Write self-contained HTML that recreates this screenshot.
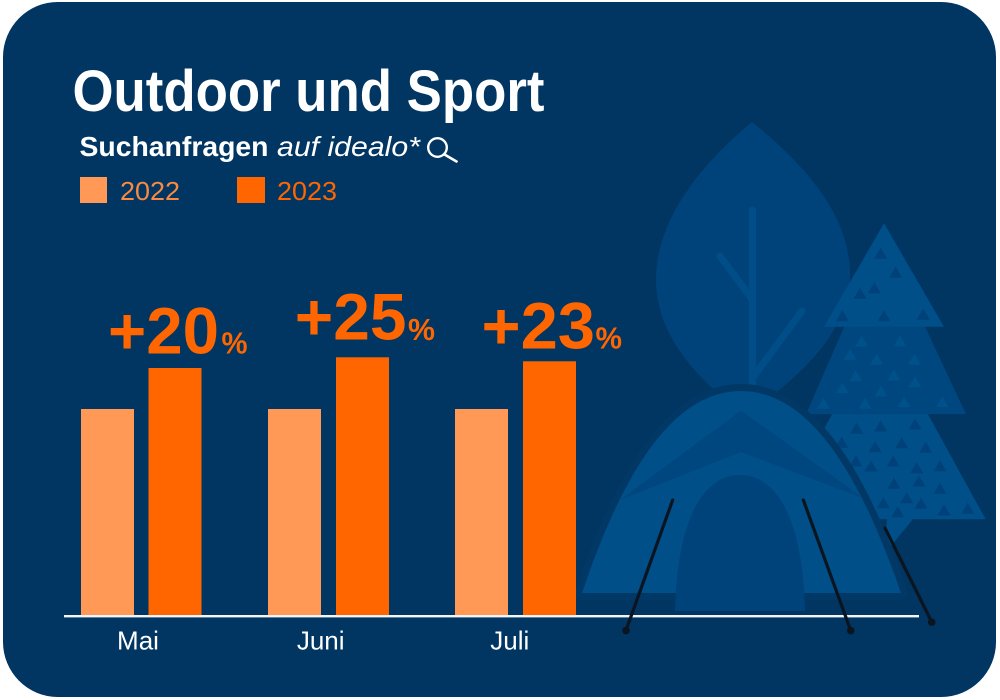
<!DOCTYPE html>
<html>
<head>
<meta charset="utf-8">
<style>
  html, body { margin:0; padding:0; background:#ffffff; }
  body { width:1000px; height:700px; overflow:hidden; }
  svg { display:block; }
  text { font-family: "Liberation Sans", Arial, sans-serif; }
</style>
</head>
<body>
<svg width="1000" height="700" viewBox="0 0 1000 700" xmlns="http://www.w3.org/2000/svg">
  <!-- card -->
  <rect x="3" y="2" width="993" height="695" rx="55" ry="55" fill="#013562"/>

  <!-- leaf -->
  <path d="M752,122 C 700,165 656,220 656,280 C 656,330 690,375 745,415 C 805,375 850,328 850,275 C 850,215 805,165 752,122 Z" fill="#00437B"/>
  <g stroke="#004D87" stroke-width="7" stroke-linecap="round" fill="none">
    <line x1="752.5" y1="210" x2="752.5" y2="385"/>
    <line x1="720" y1="256" x2="752" y2="299"/>
    <line x1="802" y1="311" x2="754" y2="376"/>
  </g>

  <!-- pine tree: bottom tier -->
  <polygon points="835.5,408 924.5,408 985.7,519.3 774,519.3" fill="#004F89"/>
  <g fill="#00417A">
    <polygon points="856.7,422.8 850.2,433.8 863.2,433.8"/>
    <polygon points="880.7,420.5 874.2,431.5 887.2,431.5"/>
    <polygon points="915,418.5 908.5,429.5 921.5,429.5"/>
    <polygon points="841.7,436.8 835.2,447.8 848.2,447.8"/>
    <polygon points="875,441.2 868.5,452.2 881.5,452.2"/>
    <polygon points="901.7,437.2 895.2,448.2 908.2,448.2"/>
    <polygon points="925.7,441.8 919.2,452.8 932.2,452.8"/>
    <polygon points="856,455.5 849.5,466.5 862.5,466.5"/>
    <polygon points="871,460.5 864.5,471.5 877.5,471.5"/>
    <polygon points="893.3,455.5 886.8,466.5 899.8,466.5"/>
    <polygon points="916.7,462.2 910.2,473.2 923.2,473.2"/>
    <polygon points="940,460.2 933.5,471.2 946.5,471.2"/>
    <polygon points="894,477.8 887.5,488.8 900.5,488.8"/>
    <polygon points="919,475.5 912.5,486.5 925.5,486.5"/>
    <polygon points="940,482.8 933.5,493.8 946.5,493.8"/>
    <polygon points="883.3,497.2 876.8,508.2 889.8,508.2"/>
    <polygon points="906.7,492.2 900.2,503.2 913.2,503.2"/>
    <polygon points="921,497.8 914.5,508.8 927.5,508.8"/>
    <polygon points="897.7,506.2 891.2,517.2 904.2,517.2"/>
    <polygon points="944,504.5 937.5,515.5 950.5,515.5"/>
    <polygon points="967.7,502.8 961.2,513.8 974.2,513.8"/>
  </g>
  <!-- trunk -->
  <polygon points="887,519 913,519 891,546 885,541" fill="#004F89"/>

  <!-- middle tier -->
  <polygon points="848,318 921,318 966,414.3 806,414.3" fill="#00467F"/>
  <g fill="#00508A">
    <polygon points="861.7,335.5 855.2,346.5 868.2,346.5"/>
    <polygon points="900,335.5 893.5,346.5 906.5,346.5"/>
    <polygon points="850,348.8 843.5,359.8 856.5,359.8"/>
    <polygon points="876.7,353.8 870.2,364.8 883.2,364.8"/>
    <polygon points="914.3,353.8 907.8,364.8 920.8,364.8"/>
    <polygon points="855.7,370.2 849.2,381.2 862.2,381.2"/>
    <polygon points="894,369.5 887.5,380.5 900.5,380.5"/>
    <polygon points="915,376.2 908.5,387.2 921.5,387.2"/>
    <polygon points="842.3,382.2 835.8,393.2 848.8,393.2"/>
    <polygon points="881,385.5 874.5,396.5 887.5,396.5"/>
    <polygon points="823.3,397.8 816.8,408.8 829.8,408.8"/>
    <polygon points="865,397.8 858.5,408.8 871.5,408.8"/>
    <polygon points="904,396.2 897.5,407.2 910.5,407.2"/>
    <polygon points="942.3,396.2 935.8,407.2 948.8,407.2"/>
  </g>

  <!-- top tier -->
  <polygon points="884,223.3 944,326.7 824,326.7" fill="#004F89"/>
  <g fill="#00417A">
    <polygon points="880.7,247.8 874.2,258.8 887.2,258.8"/>
    <polygon points="895.7,266.8 889.2,277.8 902.2,277.8"/>
    <polygon points="874.3,282.2 867.8,293.2 880.8,293.2"/>
    <polygon points="860,287.8 853.5,298.8 866.5,298.8"/>
    <polygon points="842.3,310.2 835.8,321.2 848.8,321.2"/>
    <polygon points="884,310.2 877.5,321.2 890.5,321.2"/>
    <polygon points="923.3,308.8 916.8,319.8 929.8,319.8"/>
  </g>

  <!-- tent -->
  <path d="M582,593 C 620,480 670,391 741,391 C 812,391 862,480 901,593 Z" fill="#013866" stroke="#013866" stroke-width="14" stroke-linejoin="round"/>
  <path d="M582,593 C 620,480 670,391 741,391 C 812,391 862,480 901,593 Z" fill="#004F89"/>
  <polygon points="741,410.7 863,498 741,452 620,500" fill="#00467F"/>
  <path d="M675,611 C 677,520 703,475 740,475 C 777,475 803,520 805,611 Z" fill="#00437B"/>

  <!-- axis -->
  <rect x="64" y="615" width="855" height="2.4" fill="#f2f4f7"/>

  <!-- poles -->
  <g stroke="#0B1520" stroke-width="3.2" stroke-linecap="round">
    <line x1="672.7" y1="500" x2="626" y2="630.4"/>
    <line x1="803.3" y1="500" x2="850.7" y2="630.4"/>
    <line x1="885" y1="528" x2="931.7" y2="622"/>
  </g>
  <g fill="#0B1520">
    <circle cx="626" cy="630.6" r="3.8"/>
    <circle cx="850.7" cy="630.6" r="3.8"/>
    <circle cx="931.7" cy="622.2" r="3.8"/>
  </g>

  <!-- bars -->
  <rect x="81" y="409" width="53" height="206" fill="#FF9955"/>
  <rect x="148.5" y="368" width="53" height="247" fill="#FF6600"/>
  <rect x="268" y="409" width="53" height="206" fill="#FF9955"/>
  <rect x="336" y="357.3" width="53" height="257.7" fill="#FF6600"/>
  <rect x="455" y="409" width="53" height="206" fill="#FF9955"/>
  <rect x="523" y="361.3" width="53" height="253.7" fill="#FF6600"/>

  <!-- percentage labels -->
  <g fill="#FF6600" font-weight="bold">
    <text x="108" y="353.3" font-size="66" textLength="111" lengthAdjust="spacingAndGlyphs">+20</text>
    <text x="221.5" y="353.3" font-size="31" textLength="26" lengthAdjust="spacingAndGlyphs">%</text>
    <text x="294.8" y="339.3" font-size="66" textLength="111.7" lengthAdjust="spacingAndGlyphs">+25</text>
    <text x="408" y="340" font-size="31" textLength="27" lengthAdjust="spacingAndGlyphs">%</text>
    <text x="481.5" y="348.3" font-size="66" textLength="113.5" lengthAdjust="spacingAndGlyphs">+23</text>
    <text x="595.5" y="348.3" font-size="31" textLength="26.5" lengthAdjust="spacingAndGlyphs">%</text>
  </g>

  <!-- month labels -->
  <g fill="#ffffff" font-size="26" text-anchor="middle">
    <text x="138" y="649.3">Mai</text>
    <text x="320.7" y="649.3">Juni</text>
    <text x="509.8" y="649.3">Juli</text>
  </g>

  <!-- title -->
  <text x="72.5" y="111" font-size="58" font-weight="bold" fill="#ffffff" textLength="472" lengthAdjust="spacingAndGlyphs">Outdoor und Sport</text>
  <text x="79.5" y="156" font-size="28" font-weight="bold" fill="#ffffff" textLength="189" lengthAdjust="spacingAndGlyphs">Suchanfragen</text>
  <text x="277" y="156" font-size="28" font-style="italic" fill="#ffffff" textLength="143" lengthAdjust="spacingAndGlyphs">auf idealo*</text>
  <!-- magnifier -->
  <circle cx="437.5" cy="147.5" r="9.3" fill="none" stroke="#ffffff" stroke-width="2.4"/>
  <line x1="444.5" y1="154.5" x2="456.5" y2="161.5" stroke="#ffffff" stroke-width="2.6" stroke-linecap="round"/>

  <!-- legend -->
  <rect x="80" y="177" width="27" height="26" fill="#FF9955"/>
  <text x="120" y="200" font-size="26" fill="#FA8A3F" textLength="60" lengthAdjust="spacingAndGlyphs">2022</text>
  <rect x="237" y="177" width="28" height="26" fill="#FF6600"/>
  <text x="277" y="200" font-size="26" fill="#FF6600" textLength="60" lengthAdjust="spacingAndGlyphs">2023</text>
</svg>
</body>
</html>
